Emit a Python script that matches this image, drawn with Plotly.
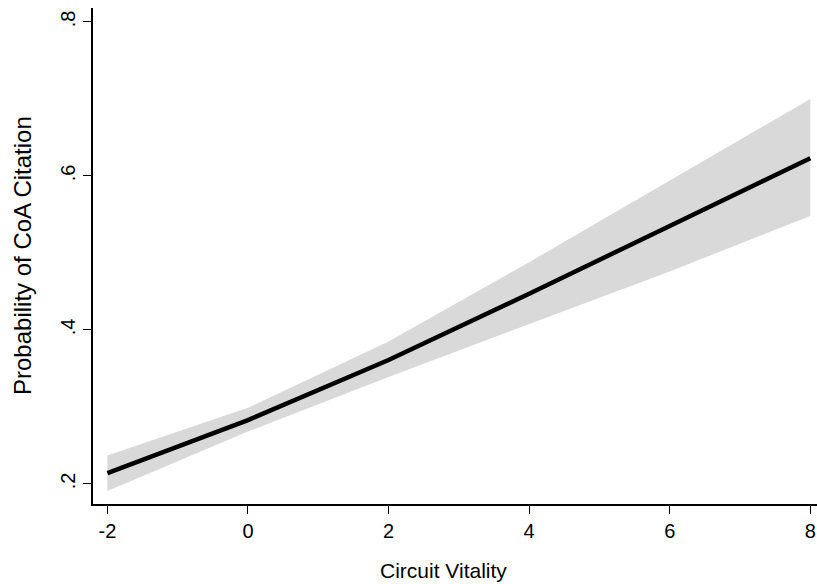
import plotly.graph_objects as go

# Predicted probability of a CoA citation across circuit vitality, with 95% CI
vitality = [-2, 0, 2, 4, 6, 8]
prob = [0.214, 0.283, 0.361, 0.447, 0.535, 0.623]
ci_low = [0.191, 0.268, 0.339, 0.408, 0.476, 0.548]
ci_high = [0.237, 0.299, 0.385, 0.488, 0.594, 0.700]

y_ticks = [0.2, 0.4, 0.6, 0.8]
y_tick_labels = [".2", ".4", ".6", ".8"]
x_ticks = [-2, 0, 2, 4, 6, 8]

band = "#d9d9d9"
font = "Liberation Sans, Arial, sans-serif"

fig = go.Figure()
fig.add_trace(go.Scatter(x=vitality, y=ci_low, mode="lines",
                         line=dict(width=0, color=band), showlegend=False,
                         hoverinfo="skip"))
fig.add_trace(go.Scatter(x=vitality, y=ci_high, mode="lines",
                         line=dict(width=0, color=band), fill="tonexty",
                         fillcolor=band, showlegend=False, hoverinfo="skip"))
fig.add_trace(go.Scatter(x=vitality, y=prob, mode="lines",
                         line=dict(width=4.5, color="black"), showlegend=False))

fig.update_layout(
    width=817, height=584,
    margin=dict(l=93, r=0, t=8, b=80),
    paper_bgcolor="white", plot_bgcolor="white",
    font=dict(family=font, size=20, color="black"),
    annotations=[
        dict(text="Circuit Vitality", xref="paper", yref="paper",
             x=(443 - 93) / 724, y=-(570 - 504) / 496,
             xanchor="center", yanchor="middle", showarrow=False,
             font=dict(size=21)),
        dict(text="Probability of CoA Citation", xref="paper", yref="paper",
             x=-(93 - 22) / 724, y=(504 - 256) / 496, textangle=-90,
             xanchor="center", yanchor="middle", showarrow=False,
             font=dict(size=24)),
    ],
)
fig.update_xaxes(
    range=[-2.205, 8.095], tickvals=x_ticks, ticktext=[str(v) for v in x_ticks],
    showgrid=False, zeroline=False, showline=True, linecolor="black",
    linewidth=2, ticks="outside", ticklen=8, tickwidth=1, tickcolor="black",
)
fig.update_yaxes(
    range=[0.174, 0.818], tickvals=y_ticks, ticktext=y_tick_labels,
    tickangle=-90,
    showgrid=False, zeroline=False, showline=True, linecolor="black",
    linewidth=2, ticks="outside", ticklen=8, tickwidth=1, tickcolor="black",
)

fig.write_html("out.html")
